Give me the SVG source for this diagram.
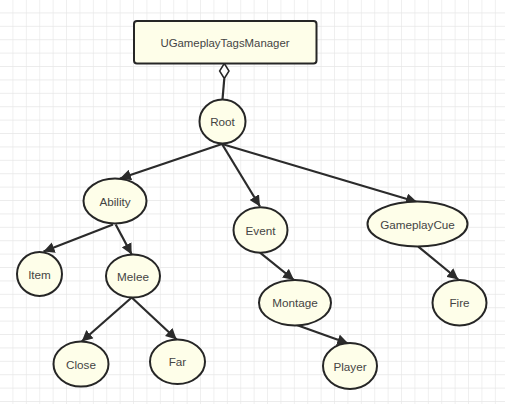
<svg xmlns="http://www.w3.org/2000/svg" width="505" height="404" viewBox="0 0 505 404">
<defs>
<pattern id="grid" x="0" y="0" width="13.4" height="13.4" patternUnits="userSpaceOnUse">
<path d="M13.4 0V13.4M0 13.4H13.4" fill="none" stroke="#e6e6e6" stroke-width="1.2"/>
</pattern>
<marker id="arr" viewBox="0 0 10 10" refX="10" refY="5" markerWidth="5" markerHeight="5" markerUnits="strokeWidth" orient="auto">
<path d="M0 0L10 5L0 10Z" fill="#2b2b2b"/>
</marker>
<style>
.n{fill:#fefee9;stroke:#262626;stroke-width:2}
.t{font-family:"Liberation Sans",Arial,sans-serif;font-size:11.7px;fill:#444444;text-anchor:middle;dominant-baseline:central}
.e{fill:none;stroke:#2b2b2b;stroke-width:2.2;marker-end:url(#arr)}
</style>
</defs>
<rect width="505" height="404" fill="#ffffff"/>
<rect width="505" height="404" fill="url(#grid)"/>
<g id="connectors">
<path d="M224.3 63.5L229 71L224.3 78.5L219.6 71Z" fill="#ffffff" stroke="#262626" stroke-width="1.5"/>
<path d="M224.3 78.5L222.5 99.5" fill="none" stroke="#2b2b2b" stroke-width="2.2"/>
<path class="e" d="M222 144L120 178.5"/>
<path class="e" d="M222 144L260 206.5"/>
<path class="e" d="M222 144L417 202"/>
<path class="e" d="M113 224.5L43.5 251.5"/>
<path class="e" d="M115.7 224.5L131.7 254.5"/>
<path class="e" d="M131.7 297.5L81.7 341.5"/>
<path class="e" d="M131.7 297.5L176.7 339.5"/>
<path class="e" d="M260 252.7L294 280"/>
<path class="e" d="M296.7 325L348.3 343.5"/>
<path class="e" d="M418.3 246.7L458.3 279.5"/>
</g>
<g id="manager">
<rect class="n" x="134" y="21" width="182.5" height="42.5" rx="3"/>
<text class="t" x="225" y="42.5" style="font-size:11.4px">UGameplayTagsManager</text>
</g>
<g id="root"><ellipse class="n" cx="222.5" cy="121.5" rx="23" ry="22"/><text class="t" x="222.5" y="121.5">Root</text></g>
<g id="ability"><ellipse class="n" cx="115" cy="201" rx="31.5" ry="22.5"/><text class="t" x="115" y="201">Ability</text></g>
<g id="item"><ellipse class="n" cx="39.5" cy="274" rx="22.5" ry="22"/><text class="t" x="39.5" y="274">Item</text></g>
<g id="melee"><ellipse class="n" cx="133" cy="276" rx="27" ry="21.5"/><text class="t" x="133" y="276">Melee</text></g>
<g id="close"><ellipse class="n" cx="81" cy="364" rx="27.5" ry="22.5"/><text class="t" x="81" y="364">Close</text></g>
<g id="far"><ellipse class="n" cx="177.5" cy="361.7" rx="27.5" ry="22.3"/><text class="t" x="177.5" y="361.7">Far</text></g>
<g id="event"><ellipse class="n" cx="260.5" cy="230" rx="27" ry="22.7"/><text class="t" x="260.5" y="230">Event</text></g>
<g id="montage"><ellipse class="n" cx="295" cy="302.7" rx="36" ry="22.7"/><text class="t" x="295" y="302.7">Montage</text></g>
<g id="player"><ellipse class="n" cx="350" cy="366" rx="27" ry="23"/><text class="t" x="350" y="366">Player</text></g>
<g id="gameplaycue"><ellipse class="n" cx="417.5" cy="224" rx="50" ry="22.5"/><text class="t" x="417.5" y="224">GameplayCue</text></g>
<g id="fire"><ellipse class="n" cx="459.5" cy="302.7" rx="27" ry="22.7"/><text class="t" x="459.5" y="302.7">Fire</text></g>
</svg>
